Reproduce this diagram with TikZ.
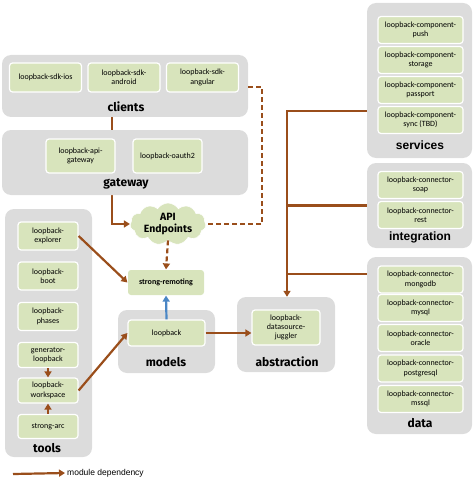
\documentclass[tikz,border=0pt]{standalone}
\usepackage{fontspec}
\setmainfont{Carlito}
\newfontfamily\lblfont{Fira Sans}
\newfontfamily\arialfont{Liberation Sans}
\usetikzlibrary{shapes.symbols,arrows.meta,backgrounds}
\definecolor{contgray}{HTML}{DCDCDC}
\definecolor{boxgreen}{HTML}{D8E4BC}
\definecolor{depbrown}{HTML}{9A4E1B}
\definecolor{depblue}{HTML}{4A86C5}
\tikzset{
  cont/.style={fill=contgray, rounded corners=9pt, draw=none, inner sep=0pt},
  sz/.style 2 args={minimum width=#1pt, minimum height=#2pt},
  box/.style={fill=boxgreen, draw=white, line width=1.2pt, rounded corners=3pt, align=center, inner sep=0pt, font=\fontsize{8}{9.4}\selectfont},
  grp/.style={font=\lblfont\bfseries\fontsize{12}{14}\selectfont, inner sep=0pt},
  grpa/.style={font=\arialfont\bfseries\fontsize{12}{14}\selectfont, inner sep=0pt},
  dep/.style={draw=depbrown, line width=2.2pt, -{Triangle[length=6pt,width=7pt]}},
  depline/.style={draw=depbrown, line width=2.2pt},
  dashy/.style={dash pattern=on 5pt off 3pt},
}
\begin{document}
\begin{tikzpicture}[x=1pt,y=-1pt]
\useasboundingbox (0,0) rectangle (474,484);

% containers
\node[cont, sz={246}{62}] (clients) at (125,86) {};
\node[cont, sz={246}{65}] (gateway) at (125,162.5) {};
\node[cont, sz={87}{248}] (tools) at (48.5,333) {};
\node[cont, sz={97}{63}] (models) at (166.5,341.5) {};
\node[cont, sz={98}{75}] (abstraction) at (286,334.5) {};
\node[cont, sz={105}{155}] (services) at (419.5,80.5) {};
\node[cont, sz={105}{85}] (integration) at (419.5,205.5) {};
\node[cont, sz={105}{177}] (data) at (419.5,345.5) {};

% clients
\node[box, sz={72}{29}] (ios) at (45.5,77.5) {loopback-sdk-ios};
\node[box, sz={72}{29}] (android) at (124,77.5) {loopback-sdk-\\android};
\node[box, sz={72}{29}] (angular) at (202.5,77.5) {loopback-sdk-\\angular};
\node[grp] (lclients) at (126,107) {clients};

% gateway
\node[box, sz={69}{34}] (apigw) at (80.5,156) {loopback-api-\\gateway};
\node[box, sz={69}{34}] (oauth) at (167.5,156) {loopback-oauth2};
\node[grp] (lgateway) at (126,184) {gateway};

% tools
\node[box, sz={60}{28}] (explorer) at (48,236) {loopback-\\explorer};
\node[box, sz={60}{28}] (boot) at (48,276) {loopback-\\boot};
\node[box, sz={60}{28}] (phases) at (48,316.5) {loopback-\\phases};
\node[box, sz={60}{25}] (generator) at (48,355) {generator-\\loopback};
\node[box, sz={60}{25}] (workspace) at (48,390.5) {loopback-\\workspace};
\node[box, sz={60}{24}] (strongarc) at (48,426.5) {strong-arc};
\node[grp] (ltools) at (47,448) {tools};

% models
\node[box, sz={77}{26}] (loopback) at (166.5,333) {loopback};
\node[grp] (lmodels) at (166,362) {models};

% strong-remoting and API cloud
\node[box, draw=none, sz={76}{25}, font=\bfseries\fontsize{8}{9.4}\selectfont] (remoting) at (166,282.5) {strong-remoting};
\node[cloud, cloud puffs=11, cloud puff arc=115, cloud ignores aspect, fill=boxgreen, draw=white, line width=0.6pt, sz={76}{42}, inner sep=0pt, align=center, font=\lblfont\bfseries\fontsize{10.5}{12.5}\selectfont] (api) at (168,224) {API\\Endpoints};

% abstraction
\node[box, sz={68}{35}] (juggler) at (286,327.5) {loopback-\\datasource-\\juggler};
\node[grp] (labstraction) at (287,362) {abstraction};

% services
\node[box, sz={85}{27}] (push) at (420.5,30) {loopback-component-\\push};
\node[box, sz={85}{27}] (storage) at (420.5,60) {loopback-component-\\storage};
\node[box, sz={85}{27}] (passport) at (420.5,90) {loopback-component-\\passport};
\node[box, sz={85}{27}] (sync) at (420.5,120) {loopback-component-\\sync (TBD)};
\node[grpa] (lservices) at (420,145) {services};

% integration
\node[box, sz={85}{27}] (soap) at (420.5,185) {loopback-connector-\\soap};
\node[box, sz={85}{27}] (rest) at (420.5,215) {loopback-connector-\\rest};
\node[grpa] (lintegration) at (420,237) {integration};

% data
\node[box, sz={85}{27}] (mongodb) at (420.5,279.5) {loopback-connector-\\mongodb};
\node[box, sz={85}{27}] (mysql) at (420.5,308) {loopback-connector-\\mysql};
\node[box, sz={85}{27}] (oracle) at (420.5,338) {loopback-connector-\\oracle};
\node[box, sz={85}{27}] (postgresql) at (420.5,368.5) {loopback-connector-\\postgresql};
\node[box, sz={85}{27}] (mssql) at (420.5,399) {loopback-connector-\\mssql};
\node[grp] (ldata) at (420,423) {data};

% connectors
\coordinate (xa) at (112,0);
\begin{scope}[on background layer]
\draw[dep] (clients.south -| xa) |- (api.west);
\end{scope}
\coordinate (dj) at (262,87);
\draw[depline, dashy] (clients.east |- dj) -- (dj) |- (api.east);
\draw[dep, dashy] (api.south) -- (remoting.north);
\draw[dep] (explorer.east) -- (remoting.west);
\draw[dep] (workspace.east) -- (loopback.west);
\draw[dep] (generator.south) -- (workspace.north);
\draw[dep] (strongarc.north) -- (workspace.south);
\draw[dep, draw=depblue] (loopback.north) -- (remoting.south);
\draw[dep] (loopback.east) -- (loopback.east -| juggler.west);

\coordinate (jt) at (287,111);
\coordinate (jd) at (287,274);
\draw[dep] (services.west |- jt) -- (jt) -- (abstraction.north -| jt);
\draw[depline] (integration.west) -- (integration.west -| jt);
\draw[depline] (data.west |- jd) -- (jd);

% legend
\coordinate (la) at (13,474);
\node[anchor=west, inner sep=2pt, font=\arialfont\fontsize{8.5}{10}\selectfont] (legend) at (65,473) {module dependency};
\draw[dep] (la) -- (legend.west);
\end{tikzpicture}
\end{document}
